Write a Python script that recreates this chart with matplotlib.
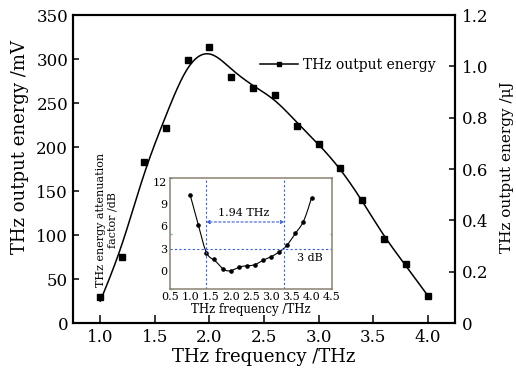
import numpy as np
import matplotlib
matplotlib.use('Agg')
import matplotlib.pyplot as plt

plt.rcParams['font.family'] = 'DejaVu Serif'
plt.rcParams['mathtext.fontset'] = 'dejavuserif'

# THz output energy vs frequency (main plot, mV)
freq = [1.0, 1.2, 1.4, 1.6, 1.8, 2.0, 2.2, 2.4, 2.6, 2.8, 3.0, 3.2, 3.4, 3.6, 3.8, 4.0]
energy_mv = [30, 75, 183, 222, 299, 314, 279, 267, 259, 224, 203, 176, 140, 95, 67, 31]

# attenuation factor (inset, dB)
atten_db = [10.2, 6.25, 2.34, 1.53, 0.27, 0.0, 0.5, 0.68, 0.81, 1.44, 1.89, 2.57, 3.46, 5.13, 6.61, 9.9]

# 3 dB bandwidth markers
f_low, f_high = 1.39, 3.33
level_3db = 3
bw_label = '1.94 THz'


def smooth(x, y, lam, step=0.005):
    '''cubic smoothing spline done as a whittaker smoother on a fine grid'''
    x = np.asarray(x, float)
    y = np.asarray(y, float)
    xf = np.arange(x[0], x[-1] + step / 2, step)
    n = len(xf)
    idx = np.rint((x - x[0]) / step).astype(int)
    w = np.zeros(n)
    w[idx] = 1
    yy = np.zeros(n)
    yy[idx] = y
    D = np.diff(np.eye(n), 2, axis=0)
    A = np.diag(w) + lam / step**3 * (D.T @ D)
    z = np.linalg.solve(A, w * yy)
    return xf, z


fig = plt.figure(figsize=(5.16, 3.77), dpi=100)
ax = fig.add_axes([0.1415, 0.1432, 0.7403, 0.817])

xs, ys = smooth(freq, energy_mv, 1.6e-3)
ax.plot(xs, ys, color='black', lw=1.1)
ax.plot(freq, energy_mv, linestyle='none', marker='s', ms=5, color='black')
# legend entry: line with marker
ax.plot([], [], color='black', lw=1.1, marker='s', ms=3.5, label='THz output energy')
ax.legend(loc='center right', bbox_to_anchor=(0.948, 0.838), frameon=False,
          fontsize=10, handlelength=2.7, handletextpad=0.35, borderpad=0, borderaxespad=0)

ax.set_xlim(0.75, 4.25)
ax.set_ylim(0, 350)
ax.set_xticks(np.arange(1.0, 4.01, 0.5))
ax.set_yticks(np.arange(0, 351, 50))
ax.set_xlabel('THz frequency /THz', fontsize=13, labelpad=2)
ax.set_ylabel('THz output energy /mV', fontsize=13)
ax.yaxis.set_label_coords(-0.115, 0.57)
ax.tick_params(axis='x', direction='in', length=5.5, width=1.1, labelsize=12, pad=4)
ax.tick_params(axis='y', direction='in', length=4, width=1.1, labelsize=12, pad=3.5)
for s in ax.spines.values():
    s.set_linewidth(1.5)

ax2 = ax.twinx()
ax2.set_ylim(0, 1.2)
ax2.set_yticks(np.arange(0, 1.21, 0.2))
ax2.set_yticklabels(['0', '0.2', '0.4', '0.6', '0.8', '1.0', '1.2'])
ax2.tick_params(axis='y', direction='in', length=4, width=1.1, labelsize=12, pad=5)
ax2.set_ylabel('THz output energy /μJ', fontsize=11)
ax2.yaxis.set_label_coords(1.119, 0.505)
for s in ax2.spines.values():
    s.set_linewidth(1.5)

# inset: attenuation factor
ins = fig.add_axes([0.3295, 0.2326, 0.3134, 0.2944])
xi, yi = smooth(freq, atten_db, 1e-4)
ins.plot(xi, yi, color='black', lw=0.8)
ins.plot(freq, atten_db, linestyle='none', marker='o', ms=2.3, color='black')
ins.set_xlim(0.5, 4.5)
ins.set_ylim(-2.5, 12.5)
ins.set_xticks(np.arange(0.5, 4.51, 0.5))
ins.set_yticks([0, 3, 6, 9, 12])
ins.set_xticks([0.5, 2.5, 4.5], minor=True)
ins.set_yticks([-2.5, 5, 12.5], minor=True)
ins.tick_params(which='major', length=0, labelsize=8, pad=2)
ins.tick_params(which='minor', direction='in', length=1.5, width=1, color='#5fb8b0',
                top=True, right=True)
ins.set_xlabel('THz frequency /THz', fontsize=8.5, labelpad=1)
for s in ins.spines.values():
    s.set_color('#8c8173')
    s.set_linewidth(1.1)

blue = '#3a5ee0'
ins.axvline(f_low, color=blue, lw=0.8, ls=(0, (2, 2)))
ins.axvline(f_high, color=blue, lw=0.8, ls=(0, (2, 2)))
ins.axhline(level_3db, color=blue, lw=0.8, ls=(0, (2, 2)))
ins.annotate('', xy=(f_low, 6.6), xytext=(f_high, 6.6),
             arrowprops=dict(arrowstyle='<|-|>', color=blue, lw=0.8, ls=(0, (2, 2)),
                             mutation_scale=5, shrinkA=0, shrinkB=0))
ins.text(2.33, 7.75, bw_label, fontsize=8, ha='center', va='center')
ins.text(3.96, 1.67, '3 dB', fontsize=8, ha='center', va='center')

fig.text(107 / 516, 1 - 220 / 377, 'THz energy attenuation\nfactor /dB', fontsize=8,
         rotation=90, ha='center', va='center', multialignment='center', linespacing=1.2)

fig.savefig('out.png', dpi=100)
